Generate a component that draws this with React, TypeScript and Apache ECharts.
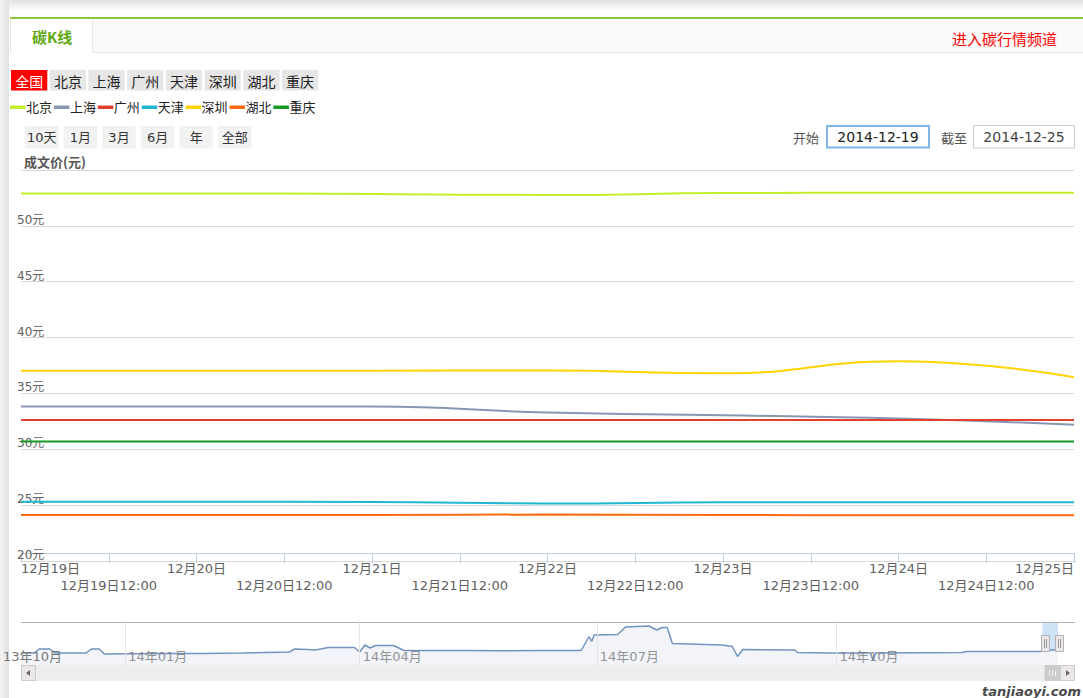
import React, { useEffect, useRef } from 'react';
import * as echarts from 'echarts';

// ---------- data ----------
const cities = ['北京', '上海', '广州', '天津', '深圳', '湖北', '重庆'];
const cityColors = ['#c4ee2c', '#8797b3', '#e2402e', '#1db8cf', '#ffd400', '#ff6a10', '#16991f'];
const dates = ['2014-12-19', '2014-12-20', '2014-12-21', '2014-12-22', '2014-12-23', '2014-12-24', '2014-12-25'];
const beijing = [52.9, 52.9, 52.85, 52.76, 52.93, 52.96, 52.96];
const shanghai = [33.84, 33.84, 33.82, 33.3, 33.05, 32.75, 32.2];
const guangzhou = [32.62, 32.62, 32.62, 32.62, 32.62, 32.62, 32.62];
const tianjin = [25.3, 25.3, 25.28, 25.15, 25.25, 25.27, 25.27];
const shenzhen = [37.02, 37.02, 37.03, 37.05, 36.8, 37.88, 36.45];
const hubei = [24.12, 24.12, 24.12, 24.16, 24.12, 24.1, 24.1];
const chongqing = [30.7, 30.7, 30.7, 30.7, 30.7, 30.7, 30.7];
const cityValues = [beijing, shanghai, guangzhou, tianjin, shenzhen, hubei, chongqing];

const cityButtons = ['全国', '北京', '上海', '广州', '天津', '深圳', '湖北', '重庆'];
const rangeButtons = ['10天', '1月', '3月', '6月', '年', '全部'];
const startDate = '2014-12-19';
const endDate = '2014-12-25';

const navDates = [
  '2013-11-22', '2013-11-27', '2013-11-29', '2013-12-03', '2013-12-05', '2013-12-17', '2013-12-19', '2013-12-22',
  '2013-12-24', '2014-01-15', '2014-01-30', '2014-02-15', '2014-03-05', '2014-03-07', '2014-03-12', '2014-03-15',
  '2014-03-20', '2014-03-30', '2014-04-01', '2014-04-03', '2014-04-05', '2014-04-07', '2014-04-14', '2014-04-18',
  '2014-05-10', '2014-05-25', '2014-06-10', '2014-06-25', '2014-06-28', '2014-06-29', '2014-06-30', '2014-07-09',
  '2014-07-12', '2014-07-21', '2014-07-24', '2014-07-26', '2014-07-28', '2014-07-30', '2014-08-18', '2014-08-22',
  '2014-08-24', '2014-08-26', '2014-09-15', '2014-09-16', '2014-09-29', '2014-10-14', '2014-10-15', '2014-10-16',
  '2014-11-18', '2014-11-20', '2014-12-18', '2014-12-22', '2014-12-25',
];
const navValues = [
  32, 32, 36, 36, 32, 32, 36, 36,
  31, 31.5, 31.5, 32, 33, 36, 35.5, 35,
  37.5, 37.5, 33, 40, 37, 39.5, 39.5, 34.5,
  34.5, 34.2, 34.5, 34.5, 48.5, 43.5, 50, 50.5,
  58, 59, 55, 57.5, 57.5, 41.5, 40, 38.5,
  28.5, 35.5, 35, 32.5, 32, 32, 25, 32,
  32.5, 33.5, 33.5, 35, 35,
];
const navQuarters = ['2014-01-01', '2014-04-01', '2014-07-01', '2014-10-01'];
const navStart = '2013-11-22';
const navEnd = '2014-12-25';

// ---------- helpers ----------
const FONT = "'DejaVu Sans', 'Noto Sans CJK SC', sans-serif";
const CJK = "'Noto Sans CJK SC', sans-serif";
const toTime = (d: string) => {
  const [y, m, dd] = d.split('-').map(Number);
  return new Date(y, m - 1, dd).getTime();
};
const t0 = toTime(dates[0]);
const hoursOf = (d: string) => (toTime(d) - t0) / 3600000;
const dayLabel = (h: number) => {
  const dt = new Date(t0 + h * 3600000);
  return `${dt.getMonth() + 1}月${dt.getDate()}日`;
};
const quarterLabel = (d: string) => {
  const [y, m] = d.split('-');
  return `${y.slice(2)}年${m}月`;
};

function text(x: number, y: number, t: string, size: number, fill: string, opts: any = {}) {
  return {
    type: 'text',
    z: opts.z ?? 20,
    style: {
      text: t,
      x,
      y,
      fontSize: size,
      fontFamily: opts.family ?? FONT,
      fontWeight: opts.weight ?? 'normal',
      fontStyle: opts.style ?? 'normal',
      fill,
      align: opts.align ?? 'left',
      verticalAlign: 'middle',
      stroke: opts.stroke,
      lineWidth: opts.lineWidth,
    },
  };
}
function rect(x: number, y: number, w: number, h: number, fill: any, stroke?: string, lw = 1, z = 10) {
  return { type: 'rect', z, shape: { x, y, width: w, height: h }, style: { fill, stroke, lineWidth: stroke ? lw : 0 } };
}
function line(x1: number, y1: number, x2: number, y2: number, stroke: string, lw = 1, z = 10) {
  return { type: 'line', z, shape: { x1, y1, x2, y2 }, style: { stroke, lineWidth: lw } };
}

export default function App() {
  const ref = useRef<HTMLDivElement>(null);
  useEffect(() => {
    if (!ref.current) return;
    const chart = echarts.init(ref.current, undefined, { renderer: 'svg' });
    const xMax = hoursOf(dates[dates.length - 1]);

    const graphics: any[] = [];
    // page chrome
    graphics.push(rect(0, 0, 1083, 11, new echarts.graphic.LinearGradient(0, 0, 0, 1, [
      { offset: 0, color: '#e2e2e2' }, { offset: 1, color: '#ffffff' },
    ]), undefined, 1, -5));
    graphics.push(rect(0, 0, 9, 698, new echarts.graphic.LinearGradient(0, 0, 1, 0, [
      { offset: 0, color: '#f3f3f3' }, { offset: 1, color: '#e2e2e2' },
    ]), undefined, 1, -4));
    // header
    graphics.push(rect(10, 19, 1073, 34, '#f9f9f9', undefined, 1, -3));
    graphics.push(line(10, 18, 1083, 18, '#8cc63f', 2, 1));
    graphics.push(line(92, 52.5, 1083, 52.5, '#e0ebd6', 1, 1));
    graphics.push(rect(10, 19, 82, 34, '#ffffff', undefined, 1, -2));
    graphics.push(line(10.5, 19, 10.5, 53, '#e6ebe2', 1, 1));
    graphics.push(line(92.5, 19, 92.5, 53, '#e0ebd6', 1, 1));
    graphics.push(text(32, 36, '碳K线', 15, '#5fa812', { weight: 'bold', family: CJK }));
    graphics.push(text(1057, 38, '进入碳行情频道', 15, '#ff0000', { align: 'right', family: CJK }));

    // city buttons
    cityButtons.forEach((c, i) => {
      const x = 11 + i * 38.7;
      graphics.push(rect(x, 70, 36.3, 20.5, i === 0 ? '#ff0000' : '#e6e6e6'));
      graphics.push(text(x + 18.2, 80.5, c, 14, i === 0 ? '#ffffff' : '#222222', { align: 'center', family: CJK }));
    });

    // legend (line swatch + name)
    cities.forEach((c, i) => {
      const x = 10 + i * 43.9;
      graphics.push(rect(x, 105.5, 15.5, 3.5, cityColors[i], undefined, 1, 20));
      graphics.push(text(x + 16, 106, c, 13, '#222222', { family: CJK }));
    });

    // range buttons
    rangeButtons.forEach((c, i) => {
      const x = 25 + i * 38.6;
      graphics.push(rect(x, 126, 33.5, 22.5, '#f2f2f2'));
      graphics.push(text(x + 16.8, 137, c, 13, '#333333', { align: 'center' }));
    });

    // date inputs
    graphics.push(text(793, 137, '开始', 13, '#555555', { family: CJK }));
    graphics.push(rect(827, 126, 102, 21.5, '#ffffff', '#7fb8e8', 2));
    graphics.push(text(878, 137, startDate, 14, '#222222', { align: 'center' }));
    graphics.push(text(941, 137, '截至', 13, '#555555', { family: CJK }));
    graphics.push(rect(973.5, 125.5, 101, 22.5, '#ffffff', '#cccccc', 1));
    graphics.push(text(1024, 137, endDate, 14, '#444444', { align: 'center' }));

    // y-axis title
    graphics.push(text(24, 161, '成文价(元)', 13, '#555555', { weight: 'bold', family: CJK }));

    // navigator chrome
    graphics.push(line(21, 622.5, 1075, 622.5, '#b2b1b6', 1, 5));
    graphics.push(text(3, 656, '13年10月', 13, '#777777'));
    // handles
    [1041.5, 1055.5].forEach((hx) => {
      graphics.push(rect(hx, 635.5, 8, 16, '#ebe7e8', '#b2b1b6', 1, 30));
      graphics.push(line(hx + 3, 639, hx + 3, 648, '#999999', 1, 31));
      graphics.push(line(hx + 5, 639, hx + 5, 648, '#999999', 1, 31));
    });
    // scrollbar
    graphics.push(rect(21, 665, 1054, 16, '#eeeeee', undefined, 1, 5));
    graphics.push(rect(21.5, 665.5, 14, 15, '#ebe7e8', '#cccccc', 1, 6));
    graphics.push({ type: 'polygon', z: 7, shape: { points: [[30, 670], [30, 676], [26, 673]] }, style: { fill: '#666666' } });
    graphics.push(rect(1045, 665.5, 15, 15, '#cccccc', '#cccccc', 1, 6));
    graphics.push(line(1049.5, 670, 1049.5, 676, '#eeeeee', 1, 7));
    graphics.push(line(1052.5, 670, 1052.5, 676, '#eeeeee', 1, 7));
    graphics.push(line(1055.5, 670, 1055.5, 676, '#eeeeee', 1, 7));
    graphics.push(rect(1060.5, 665.5, 14, 15, '#ebe7e8', '#cccccc', 1, 6));
    graphics.push({ type: 'polygon', z: 7, shape: { points: [[1066, 670], [1066, 676], [1070, 673]] }, style: { fill: '#666666' } });
    // watermark
    graphics.push(text(1081, 691, 'tanjiaoyi.com', 13, '#4a4a4a', {
      align: 'right', weight: 'bold', style: 'italic', family: "'DejaVu Sans', sans-serif", stroke: '#ffffff', lineWidth: 2,
    }));

    const citySeries = cities.map((c, i) => ({
      name: c,
      type: 'line',
      xAxisIndex: 0,
      yAxisIndex: 0,
      smooth: true,
      showSymbol: false,
      symbol: 'none',
      color: cityColors[i],
      lineStyle: { width: 2, color: cityColors[i] },
      data: dates.map((d, k) => [hoursOf(d), cityValues[i][k]]),
      z: 3,
    }));

    chart.setOption({
      animation: false,
      textStyle: { fontFamily: FONT },
      grid: [
        { left: 21, top: 170, width: 1053, height: 391 },
        { left: 21, top: 622, width: 1037, height: 43 },
      ],
      xAxis: [
        {
          type: 'value', gridIndex: 0, position: 'bottom', min: 0, max: xMax, interval: 12, offset: -8,
          axisLine: { show: true, lineStyle: { color: '#C0D0E0', width: 1 } },
          axisTick: { show: true, length: 10, lineStyle: { color: '#C0D0E0' } },
          splitLine: { show: false },
          axisLabel: {
            margin: 9, fontSize: 13, color: '#606060',
            alignMinLabel: 'left', alignMaxLabel: 'right',
            formatter: (v: number) => (v % 24 === 0 ? dayLabel(v) : ''),
          },
        },
        {
          type: 'value', gridIndex: 0, position: 'bottom', min: 0, max: xMax, interval: 12, offset: -8,
          axisLine: { show: false }, axisTick: { show: false }, splitLine: { show: false },
          axisLabel: {
            margin: 26, fontSize: 13, color: '#606060',
            formatter: (v: number) => (v % 24 === 12 ? `${dayLabel(v)}12:00` : ''),
          },
        },
        {
          type: 'time', gridIndex: 1, min: toTime(navStart), max: toTime(navEnd),
          axisLine: { show: false }, axisTick: { show: false }, axisLabel: { show: false }, splitLine: { show: false },
        },
      ],
      yAxis: [
        {
          type: 'value', gridIndex: 0, min: 20, max: 55, interval: 5,
          axisLine: { show: false }, axisTick: { show: false },
          splitLine: { show: true, lineStyle: { color: '#d8d8d8', width: 1 } },
          axisLabel: {
            inside: true, margin: -4, verticalAlign: 'bottom', showMaxLabel: false,
            fontSize: 12, color: '#606060', formatter: '{value}元',
          },
        },
        {
          type: 'value', gridIndex: 1, min: 20, max: 63,
          axisLine: { show: false }, axisTick: { show: false }, axisLabel: { show: false }, splitLine: { show: false },
        },
      ],
      series: [
        ...citySeries,
        {
          name: 'navigator',
          type: 'line',
          xAxisIndex: 2,
          yAxisIndex: 1,
          showSymbol: false,
          symbol: 'none',
          silent: true,
          lineStyle: { width: 1.5, color: '#7394bf' },
          areaStyle: { color: '#f2f4fa', opacity: 1 },
          data: navDates.map((d, k) => [toTime(d), navValues[k]]),
          markLine: {
            silent: true,
            symbol: ['none', 'none'],
            label: { show: false },
            lineStyle: { color: '#e6e6e6', type: 'solid', width: 1 },
            data: navQuarters.map((d) => ({ xAxis: toTime(d) })),
          },
          markArea: {
            silent: true,
            itemStyle: { color: 'rgba(150,190,235,0.45)' },
            data: [[{ xAxis: toTime(startDate) }, { xAxis: toTime(endDate) }]],
          },
          z: 2,
        },
        {
          name: 'navLabels',
          type: 'scatter',
          xAxisIndex: 2,
          yAxisIndex: 1,
          symbolSize: 0,
          silent: true,
          data: navQuarters.map((d) => ({ value: [toTime(d), 29], name: quarterLabel(d) })),
          label: {
            show: true, position: 'right', distance: 3, fontSize: 13, color: '#777777',
            formatter: (p: any) => p.name,
          },
          z: 4,
        },
      ],
      graphic: graphics,
    });
    return () => chart.dispose();
  }, []);
  return <div ref={ref} style={{ position: 'fixed', left: 0, top: 0, width: 1083, height: 698, background: '#fff' }} />;
}
